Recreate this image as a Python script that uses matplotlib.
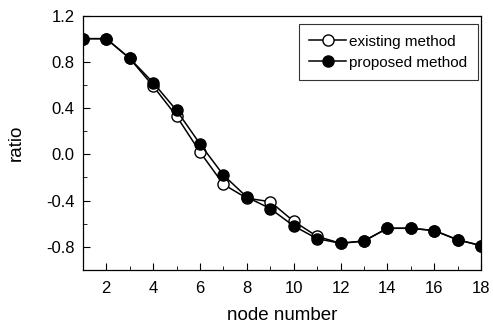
import numpy as np
import matplotlib.pyplot as plt
from matplotlib.ticker import MultipleLocator

plt.rcParams['font.family'] = ['Liberation Sans', 'DejaVu Sans']

# data
node = [1, 2, 3, 4, 5, 6, 7, 8, 9, 10, 11, 12, 13, 14, 15, 16, 17, 18]
existing = [1.0, 1.0, 0.83, 0.59, 0.33, 0.02, -0.26, -0.38, -0.41, -0.58, -0.71,
            -0.77, -0.75, -0.64, -0.64, -0.66, -0.74, -0.79]
proposed = [1.0, 1.0, 0.83, 0.62, 0.38, 0.09, -0.18, -0.37, -0.47, -0.62, -0.73,
            -0.77, -0.75, -0.64, -0.64, -0.66, -0.74, -0.79]

fig = plt.figure(figsize=(4.93, 3.24), dpi=100)
ax = fig.add_axes([0.168, 0.167, 0.808, 0.785])

ax.plot(node, existing, '-o', color='black', mfc='white', mec='black',
        ms=8, lw=1.1, label='existing method')
ax.plot(node, proposed, '-o', color='black', mfc='black', mec='black',
        ms=8, lw=1.1, label='proposed method')

ax.set_xlim(1, 18)
ax.set_ylim(-1.0, 1.2)
ax.xaxis.set_minor_locator(MultipleLocator(1))
ax.yaxis.set_minor_locator(MultipleLocator(0.2))
ax.set_xticks([2, 4, 6, 8, 10, 12, 14, 16, 18])
ax.set_yticks([-0.8, -0.4, 0.0, 0.4, 0.8, 1.2])
ax.set_yticklabels(['-0.8', '-0.4', '0.0', '0.4', '0.8', '1.2'])
ax.tick_params(which='both', direction='in', labelsize=12)
ax.tick_params(axis='y', pad=6)
ax.tick_params(axis='x', pad=8)
ax.tick_params(which='major', length=5)
ax.tick_params(which='minor', length=3)

for s in ax.spines.values():
    s.set_linewidth(0.9)

ax.set_xlabel('node number', fontsize=13.5)
ax.set_ylabel('ratio', fontsize=13.5)
ax.xaxis.set_label_coords(0.5, -0.145)
ax.yaxis.set_label_coords(-0.147, 0.5)

leg = ax.legend(loc='upper right', bbox_to_anchor=(478 / 493, 1 - 24 / 324),
                bbox_transform=fig.transFigure, borderaxespad=0,
                fontsize=11, frameon=True, fancybox=False,
                edgecolor='black', handlelength=2.4, borderpad=0.7,
                labelspacing=0.45, handletextpad=0.2)
leg.get_frame().set_linewidth(0.8)

fig.savefig('out.png', dpi=100)
